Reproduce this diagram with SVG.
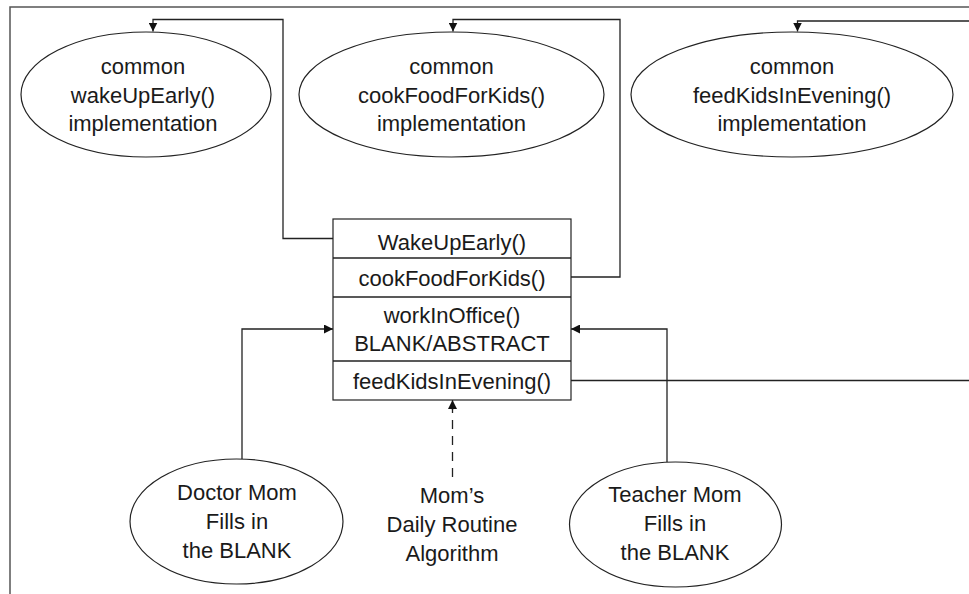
<svg xmlns="http://www.w3.org/2000/svg" width="969" height="594" viewBox="0 0 969 594">
<defs>
<style>
.t{font-family:"Liberation Sans",Arial,sans-serif;font-size:22px;fill:#1a1a1a;text-anchor:middle}
.sh{fill:#fff;stroke:#222;stroke-width:1.2}
.ln{fill:none;stroke:#222;stroke-width:1.3}
.fr{fill:none;stroke:#555;stroke-width:1.5}
</style>
<marker id="ah" viewBox="0 0 10 10" refX="10" refY="5" markerWidth="9" markerHeight="9" markerUnits="userSpaceOnUse" orient="auto">
<path d="M0,0 L10,5 L0,10 Z" fill="#111"/>
</marker>
</defs>
<rect width="969" height="594" fill="#fff"/>
<g id="frame">
<path class="fr" d="M10,594 V7 H969"/>
</g>
<g id="connectors">
<path class="ln" d="M333,238.5 H283 V19.5 H153 V31.5" marker-end="url(#ah)"/>
<path class="ln" d="M571,277 H620 V19.5 H453 V31.5" marker-end="url(#ah)"/>
<path class="ln" d="M571,380.5 H969"/>
<path class="ln" d="M969,21 H797.5 V31.5" marker-end="url(#ah)"/>
<path class="ln" d="M242,459 V329 H333" marker-end="url(#ah)"/>
<path class="ln" d="M667,462 V329 H571" marker-end="url(#ah)"/>
<path class="ln" d="M452.5,477 V409" stroke-dasharray="9,7"/>
<path class="ln" d="M452.5,410 V400" marker-end="url(#ah)"/>
</g>
<g id="e-wake">
<ellipse class="sh" cx="146" cy="94.5" rx="125" ry="62.5"/>
<text class="t" x="143" y="74">common</text>
<text class="t" x="143" y="102.5">wakeUpEarly()</text>
<text class="t" x="143" y="131">implementation</text>
</g>
<g id="e-cook">
<ellipse class="sh" cx="451.5" cy="94.5" rx="152.5" ry="62.5"/>
<text class="t" x="451.5" y="74">common</text>
<text class="t" x="451.5" y="102.5">cookFoodForKids()</text>
<text class="t" x="451.5" y="131">implementation</text>
</g>
<g id="e-feed">
<ellipse class="sh" cx="792" cy="94.5" rx="161" ry="62.5"/>
<text class="t" x="792" y="74">common</text>
<text class="t" x="792" y="102.5">feedKidsInEvening()</text>
<text class="t" x="792" y="131">implementation</text>
</g>
<g id="routine">
<rect class="sh" x="333" y="219" width="238" height="181"/>
<line class="ln" x1="333" y1="258" x2="571" y2="258"/>
<line class="ln" x1="333" y1="297" x2="571" y2="297"/>
<line class="ln" x1="333" y1="361" x2="571" y2="361"/>
<text class="t" x="452" y="249.5">WakeUpEarly()</text>
<text class="t" x="452" y="286">cookFoodForKids()</text>
<text class="t" x="452" y="322.5">workInOffice()</text>
<text class="t" x="452" y="350.5">BLANK/ABSTRACT</text>
<text class="t" x="452" y="388.5">feedKidsInEvening()</text>
</g>
<g id="e-doctor">
<ellipse class="sh" cx="236.5" cy="521.5" rx="106.5" ry="62.5"/>
<text class="t" x="237" y="500">Doctor Mom</text>
<text class="t" x="237" y="529">Fills in</text>
<text class="t" x="237" y="557.5">the BLANK</text>
</g>
<g id="label-algorithm">
<text class="t" x="452" y="503">Mom’s</text>
<text class="t" x="452" y="532">Daily Routine</text>
<text class="t" x="452" y="560.5">Algorithm</text>
</g>
<g id="e-teacher">
<ellipse class="sh" cx="675.5" cy="524.5" rx="106" ry="62.5"/>
<text class="t" x="675" y="502">Teacher Mom</text>
<text class="t" x="675" y="531">Fills in</text>
<text class="t" x="675" y="560">the BLANK</text>
</g>
</svg>
